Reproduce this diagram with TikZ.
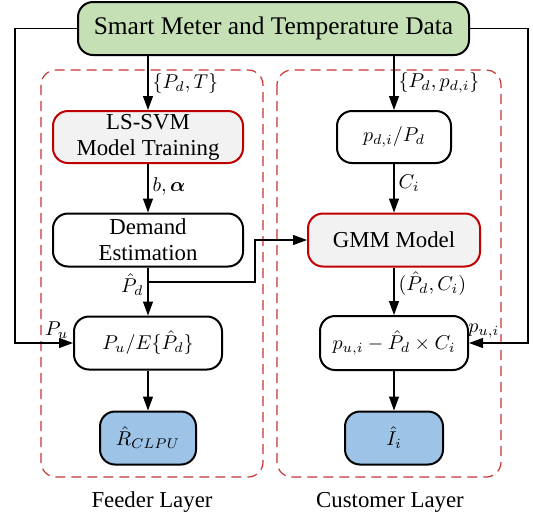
\documentclass[tikz,border=0pt]{standalone}
\usepackage{fontspec}
\setmainfont{Liberation Serif}
\usepackage{amsmath,bm}
\usetikzlibrary{arrows.meta}

\definecolor{datagreen}{HTML}{C5E0B4}
\definecolor{modelgray}{HTML}{F2F2F2}
\definecolor{modelred}{HTML}{C00000}
\definecolor{outblue}{HTML}{9DC3E6}
\definecolor{layerred}{HTML}{C83232}

\tikzset{
  box/.style={draw=black, line width=1pt, rounded corners=7.5pt, align=center,
    inner sep=0pt, font=\fontsize{11.4}{13}\selectfont},
  mathbox/.style={box, font=\fontsize{10.2}{12}\selectfont},
  model/.style={box, draw=modelred, fill=modelgray},
  outbox/.style={mathbox, fill=outblue},
  layer/.style={draw=layerred, line width=0.6pt, dash pattern=on 5pt off 3pt, rounded corners=7.5pt},
  flow/.style={draw=black, line width=0.6pt, -{Triangle[length=7pt,width=5pt]}},
  lbl/.style={font=\fontsize{9.6}{11}\selectfont, inner sep=2pt},
  layername/.style={font=\fontsize{11.4}{13}\selectfont},
}

\begin{document}
\begin{tikzpicture}[x=0.5pt, y=-0.5pt]
\useasboundingbox (0,0) rectangle (533,516);

% dashed layer frames
\draw[layer] (41,70) rectangle (263,477);
\draw[layer] (277,70) rectangle (501,477);
\node[layername] (feeder) at (152,502) {Feeder Layer};
\node[layername] (customer) at (390,502) {Customer Layer};

% data source
\node[box, fill=datagreen, minimum width=195.5pt, minimum height=26.5pt,
  font=\fontsize{12.7}{14}\selectfont] (data) at (273.5,28.5) {Smart Meter and Temperature Data};

% feeder layer
\node[model, minimum width=95pt, minimum height=26pt] (lssvm) at (148,137) {LS-SVM\\Model Training};
\node[box, minimum width=95pt, minimum height=26.5pt] (demand) at (148,240) {Demand\\Estimation};
\node[mathbox, minimum width=74pt, minimum height=26.5pt] (ratio) at (148,343) {$P_u/E\{\hat{P}_d\}$};
\node[outbox, minimum width=48pt, minimum height=26.5pt] (rclpu) at (148,438) {$\hat{R}_{CLPU}$};

% customer layer
\node[mathbox, minimum width=57pt, minimum height=26pt] (share) at (394,137) {$p_{d,i}/P_d$};
\node[model, minimum width=86pt, minimum height=26.5pt] (gmm) at (394,240) {GMM Model};
\node[mathbox, minimum width=74pt, minimum height=27pt] (resid) at (394,343) {$p_{u,i}-\hat{P}_d\times C_i$};
\node[outbox, minimum width=49pt, minimum height=26.5pt] (ii) at (394,438) {$\hat{I}_i$};

% connectors
\coordinate (split) at (148,282);
\coordinate (lcorner) at (15,28.5);
\coordinate (rcorner) at (528,28.5);

\draw[flow] (data.south -| lssvm) -- node[lbl, right] {$\{P_d,T\}$} (lssvm);
\draw[flow] (data.south -| share) -- node[lbl, right] {$\{P_d,p_{d,i}\}$} (share);
\draw[flow] (lssvm) -- node[lbl, right, pos=0.47] {$b,\bm{\alpha}$} (demand);
\draw[flow] (share) -- node[lbl, right, pos=0.4] {$C_i$} (gmm);
\draw[flow] (demand) -- node[lbl, left, pos=0.35] {$\hat{P}_d$} (ratio);
\draw[flow] (split) -- (255,282) -- (255,240) -- (gmm.west);
\draw[flow] (gmm) -- node[lbl, right, pos=0.33] {$(\hat{P}_d,C_i)$} (resid);
\draw[flow] (ratio) -- (rclpu);
\draw[flow] (resid) -- (ii);
\draw[flow] (data.west |- lcorner) -- (lcorner) -- (lcorner |- ratio) -- node[lbl, above, pos=0.72] {$P_u$} (ratio.west);
\draw[flow] (data.east |- rcorner) -- (rcorner) -- (rcorner |- resid) -- node[lbl, above, pos=0.75] {$p_{u,i}$} (resid.east);
\end{tikzpicture}
\end{document}
